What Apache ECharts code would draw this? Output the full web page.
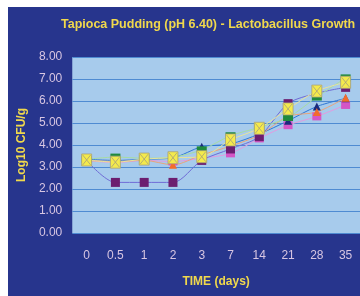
<!DOCTYPE html>
<html>
<head>
<meta charset="utf-8">
<script src="https://cdn.jsdelivr.net/npm/echarts@6/dist/echarts.min.js"></script>
<style>
  html, body { margin: 0; padding: 0; background: #fff; }
  #chart { position: absolute; left: 8px; top: 7px; width: 352px; height: 289px; }
</style>
</head>
<body>
<div id="chart"></div>
<script>
// time points (days)
const days = ['0', '0.5', '1', '2', '3', '7', '14', '21', '28', '35'];

// Log10 CFU/g per culture
const cultureYellow = [3.32, 3.22, 3.36, 3.42, 3.47, 4.23, 4.76, 5.64, 6.45, 6.85];
const cultureGreen  = [3.35, 3.45, 3.40, 3.45, 3.78, 4.42, 4.80, 5.25, 6.18, 7.05];
const culturePurple = [3.30, 2.30, 2.30, 2.30, 3.30, 3.82, 4.38, 5.88, 6.35, 6.62];
const cultureBlue   = [3.35, 3.30, 3.35, 3.42, 3.92, 4.05, 4.50, 5.10, 5.75, 6.12];
const cultureOrange = [3.30, 3.25, 3.30, 3.10, 3.55, 3.95, 4.45, 5.30, 5.50, 6.15];
const culturePink   = [3.30, 3.20, 3.30, 3.25, 3.40, 3.62, 4.30, 4.90, 5.30, 5.82];

const chart = echarts.init(document.getElementById('chart'));

function lineSeries(name, data, lineColor, markColor, symbol, size, extra) {
  return Object.assign({
    name: name,
    type: 'line',
    data: data,
    smooth: 0.3,
    symbol: symbol,
    symbolSize: size,
    lineStyle: { color: lineColor, width: 1 },
    itemStyle: { color: markColor, borderWidth: 0 }
  }, extra || {});
}

chart.setOption({
  backgroundColor: '#27358d',
  animation: false,
  textStyle: { fontFamily: 'Liberation Sans, Arial, sans-serif' },
  title: {
    text: 'Tapioca Pudding (pH 6.40) - Lactobacillus Growth',
    left: 48,
    top: 6,
    textStyle: { color: '#f0d84c', fontSize: 12.5, fontWeight: 'bold' }
  },
  grid: {
    show: true,
    left: 59,
    top: 50,
    right: -3,
    bottom: 63,
    backgroundColor: '#a7cbec',
    borderWidth: 0
  },
  xAxis: {
    type: 'category',
    data: days,
    name: 'TIME (days)',
    nameLocation: 'middle',
    nameGap: 43,
    nameTextStyle: { color: '#f0d84c', fontSize: 12, fontWeight: 'bold' },
    axisLine: { show: false },
    axisTick: { show: false },
    axisLabel: { color: '#d8c6e2', fontSize: 12, margin: 17 }
  },
  yAxis: {
    type: 'value',
    min: 0,
    max: 8,
    interval: 1,
    name: 'Log10 CFU/g',
    nameLocation: 'middle',
    nameGap: 40,
    nameTextStyle: { color: '#f0d84c', fontSize: 12, fontWeight: 'bold' },
    axisLine: { show: false },
    axisTick: { show: false },
    axisLabel: { color: '#d8c6e2', fontSize: 12, margin: 10, formatter: v => v.toFixed(2) },
    splitLine: { lineStyle: { color: '#4f8bd2', width: 1 } }
  },
  series: [
    lineSeries('pink', culturePink, '#e49ae0', '#d456c6', 'rect', [9, 8]),
    lineSeries('blue', cultureBlue, '#2f78d6', '#1c2b7c', 'triangle', [8, 8]),
    lineSeries('orange', cultureOrange, '#eaa47a', '#f26c2c', 'triangle', [8, 8]),
    lineSeries('purple', culturePurple, '#6f6bd6', '#6c1e70', 'rect', [9, 9]),
    lineSeries('green', cultureGreen, '#a6dca4', '#1f8a3d', 'rect', [10, 7]),
    lineSeries('yellow', cultureYellow, '#e8e49c', '#f4ea4c',
      'path://M0,0H10V12H0Z M1,1L9,11 M9,1L1,11', [10, 12],
      { itemStyle: { color: '#f4ea4c', borderColor: '#a8a07a', borderWidth: 0.8 } })
  ]
});
</script>
</body>
</html>
